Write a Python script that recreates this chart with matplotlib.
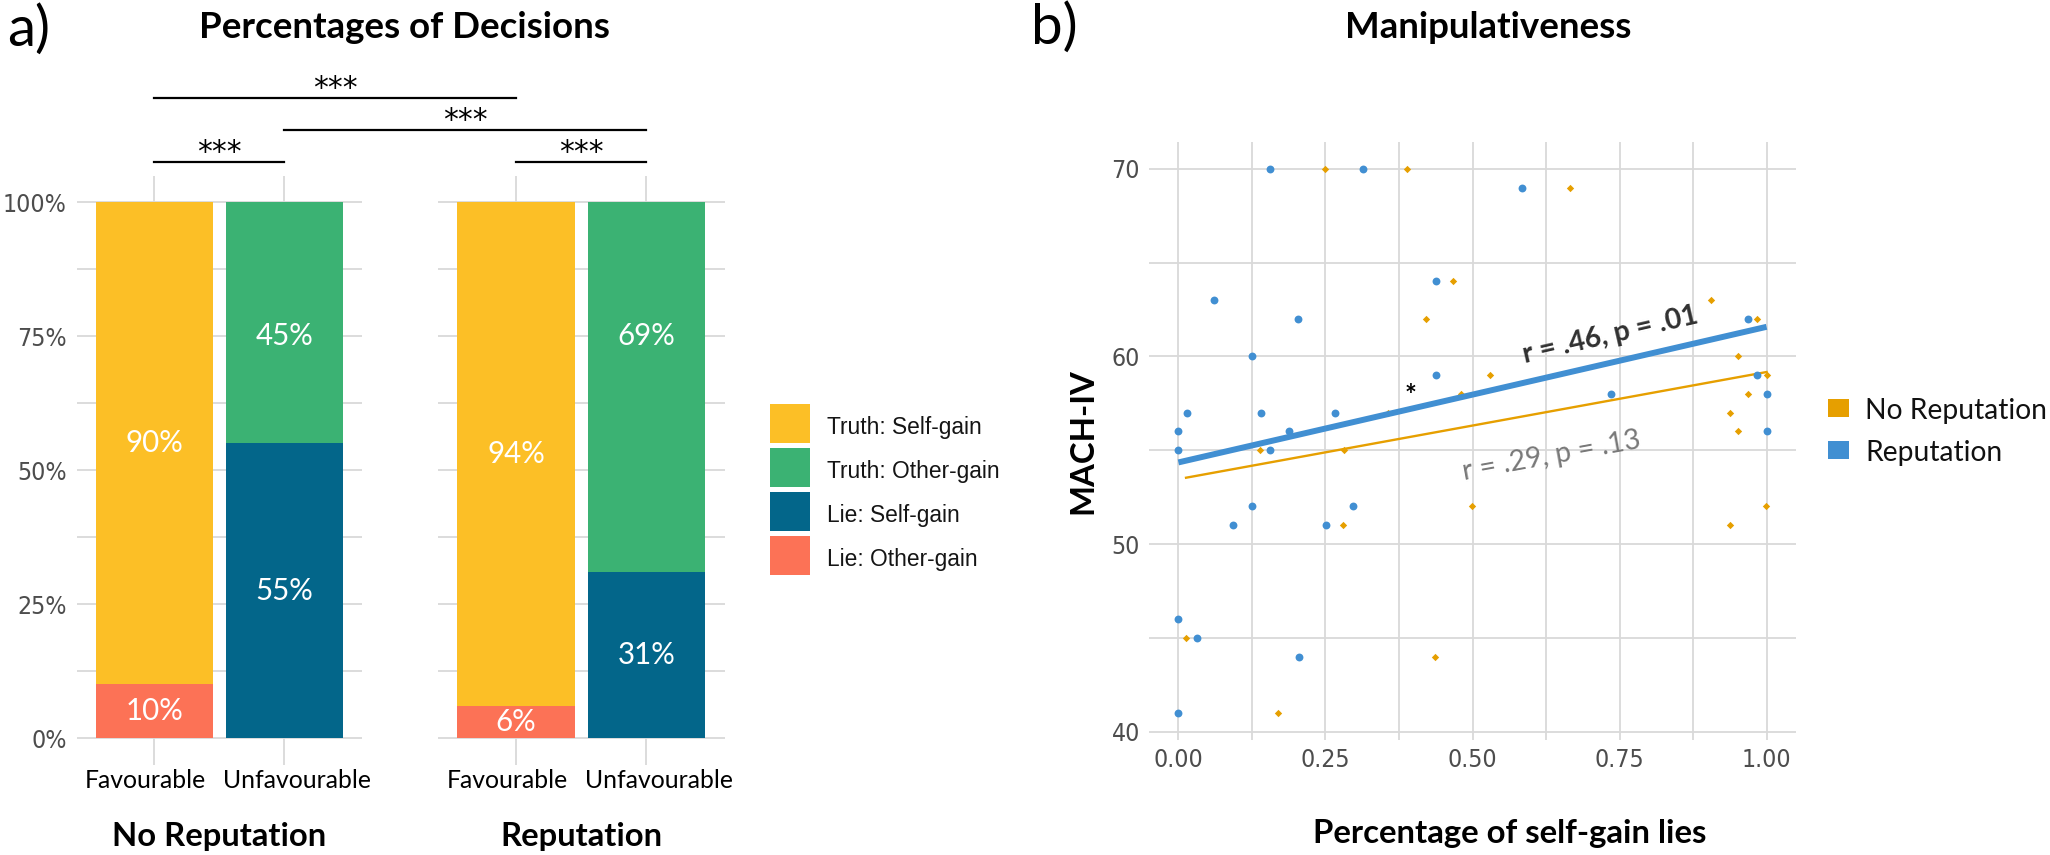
import numpy as np
import matplotlib
matplotlib.use("Agg")
import matplotlib.pyplot as plt
from matplotlib.patches import Rectangle
from matplotlib.lines import Line2D
from matplotlib.transforms import ScaledTranslation
from matplotlib import font_manager as fm

# ---------------- data: panel a ----------------
conditions = ["No Reputation", "Reputation"]
contexts = ["Favourable", "Unfavourable"]
categories = ["Truth: Self-gain", "Truth: Other-gain", "Lie: Self-gain", "Lie: Other-gain"]
# percentages, [condition][context]
truth_self = [[90, 0], [94, 0]]
truth_other = [[0, 45], [0, 69]]
lie_self = [[0, 55], [0, 31]]
lie_other = [[10, 0], [6, 0]]
pct_ticks = [0, 25, 50, 75, 100]

# significance comparisons: (condition, context) pairs
sig_from = [(0, 0), (1, 0), (0, 1), (0, 0)]
sig_to = [(0, 1), (1, 1), (1, 1), (1, 0)]
sig_labels = ["***", "***", "***", "***"]

# ---------------- data: panel b ----------------
rep_x = [0.156, 0.313, 0.061, 0.204, 0.125, 0.438, 0.438, 0.015, 0.140, 0.267,
         0.000, 0.188, 0.000, 0.156, 0.125, 0.092, 0.251, 0.297, 0.000, 0.031,
         0.205, 0.000, 0.584, 0.969, 0.984, 1.000, 1.000, 0.736]
rep_y = [70, 70, 63, 62, 60, 64, 59, 57, 57, 57,
         56, 56, 55, 55, 52, 51, 51, 52, 46, 45,
         44, 41, 69, 62, 59, 58, 56, 58]
norep_x = [0.250, 0.389, 0.467, 0.421, 0.529, 0.480, 0.357, 0.139, 0.281, 0.013,
           0.169, 0.280, 0.436, 0.499, 0.937, 0.999, 0.666, 0.905, 0.983, 0.952,
           1.000, 0.968, 0.937, 0.952]
norep_y = [70, 70, 64, 62, 59, 58, 57, 55, 55, 45,
           41, 51, 44, 52, 51, 52, 69, 63, 62, 60,
           59, 58, 57, 56]
rep_fit_intercept, rep_fit_slope = 54.35, 7.23
norep_fit_intercept, norep_fit_slope = 53.46, 5.71
rep_stat = "r = .46, p = .01"
norep_stat = "r = .29, p = .13"
x_ticks_b = [0.0, 0.25, 0.5, 0.75, 1.0]
y_ticks_b = [40, 50, 60, 70]

# ---------------- style ----------------
CAL = ["Lato", "DejaVu Sans"]
ARIAL = ["Liberation Sans", "DejaVu Sans"]
_fonts = fm.fontManager.ttflist
if any(f.name == "Liberation Sans Narrow" for f in _fonts):
    TICKFONT = dict(family=["Liberation Sans Narrow", "DejaVu Sans"])
elif any(f.name == "DejaVu Sans" and "condensed" in str(f.stretch) for f in _fonts):
    TICKFONT = dict(family=["DejaVu Sans"], stretch="condensed")
else:
    TICKFONT = dict(family=ARIAL)
C_TS, C_TO, C_LS, C_LO = "#FCBF26", "#3BB273", "#03668A", "#FC7256"
C_NOREP, C_REP = "#E69F00", "#418FD2"
GRID = "#d9d9d9"
TICKC = "#4d4d4d"

W, H = 2050, 855
fig = plt.figure(figsize=(W / 100, H / 100), dpi=100)
renderer = fig.canvas.get_renderer()


def size_for(text, target_px, base=20, **kw):
    """font size so that `text` is target_px wide."""
    t = fig.text(0, 0, text, fontsize=base, **kw)
    w = t.get_window_extent(renderer).width
    t.remove()
    return base * target_px / w


def rect(l, t, r, b):
    return [l / W, 1 - b / H, (r - l) / W, (b - t) / H]


def style_axes(ax):
    for s in ax.spines.values():
        s.set_visible(False)
    ax.tick_params(which="both", length=0)
    ax.grid(which="both", color=GRID, lw=1.3, zorder=0)
    ax.set_axisbelow(True)


fs_tick = 0.5 * (size_for("0.00", 50, **TICKFONT) + size_for("70", 28, **TICKFONT))
fs_tick = min(fs_tick, 20.5)
fs_ctx = min(size_for("Unfavourable", 148, family=CAL), size_for("Favourable", 121, family=CAL))
fs_barlab = size_for("90%", 58, family=CAL)
fs_title = size_for("Percentages of Decisions", 411, family=CAL, fontweight="bold")
fs_facet = size_for("No Reputation", 214, family=CAL, fontweight="bold")
fs_leg_a = size_for("Truth: Other-gain", 172, family=ARIAL)
fs_leg_b = size_for("No Reputation", 182, family=CAL)
fs_xlab = size_for("Percentage of self-gain lies", 395, family=CAL, fontweight="bold")
fs_ylab = fs_xlab
fs_star = size_for("***", 44, family=["DejaVu Sans"])
fs_stat = size_for(rep_stat, 180, family=CAL, fontweight="bold")
fs_panel = size_for("a)", 43, family=CAL)

# ---------------- panel a ----------------
ax1 = fig.add_axes(rect(76.5, 175.7, 362.2, 764.8))
ax2 = fig.add_axes(rect(437.8, 175.7, 724.5, 764.8))
axes_a = [ax1, ax2]
stack = [(lie_other, C_LO, "Lie: Other-gain"), (lie_self, C_LS, "Lie: Self-gain"),
         (truth_other, C_TO, "Truth: Other-gain"), (truth_self, C_TS, "Truth: Self-gain")]
ctx_offsets_px = [-9, 13]
for ci, ax in enumerate(axes_a):
    xpos = np.arange(len(contexts))
    bottom = np.zeros(len(contexts))
    for vals, color, name in stack:
        v = np.array(vals[ci]) / 100.0
        ax.bar(xpos, v, width=0.9, bottom=bottom, color=color, linewidth=0, zorder=2)
        for xi, (vi, bi) in enumerate(zip(v, bottom)):
            if vi > 0:
                ly = 0.75 if name == "Truth: Other-gain" else bi + vi / 2
                ax.text(xi, ly, f"{round(vi * 100)}%", color="white", ha="center",
                        va="center", fontsize=fs_barlab, family=CAL, zorder=3)
        bottom = bottom + v
    ax.set_xlim(-0.6, 1.6)
    ax.set_ylim(-0.05, 1.05)
    ax.set_xticks(xpos)
    ax.set_xticklabels(contexts, fontsize=fs_ctx, family=CAL, color="black")
    ax.set_yticks([t / 100 for t in pct_ticks])
    ax.set_yticks([0.125, 0.375, 0.625, 0.875], minor=True)
    style_axes(ax)
    ax.tick_params(axis="x", pad=3)
    ax.tick_params(axis="y", pad=7)
    # nudge context labels apart (after tick_params, which resets transforms)
    for lab, dx in zip(ax.get_xticklabels(), ctx_offsets_px):
        lab.set_transform(lab.get_transform() + ScaledTranslation(dx / 100, 0, fig.dpi_scale_trans))
    if ci == 0:
        ax.set_yticklabels([f"{t}%" for t in pct_ticks], fontsize=fs_tick, color=TICKC, **TICKFONT)
    else:
        ax.set_yticklabels([])
    pos = ax.get_position()
    fig.text((pos.x0 + pos.x1) / 2, 1 - 836 / H, conditions[ci], ha="center", va="center",
             fontsize=fs_facet, fontweight="bold", family=CAL)

# significance brackets (drawn in figure coords from data positions)
inv = fig.transFigure.inverted()


def to_fig(ax, x, y):
    return inv.transform(ax.transData.transform((x, y)))


levels = [1.075, 1.075, 1.135, 1.195]
for (c0, k0), (c1, k1), lab, ly in zip(sig_from, sig_to, sig_labels, levels):
    p0 = to_fig(axes_a[c0], k0, ly)
    p1 = to_fig(axes_a[c1], k1, ly)
    fig.add_artist(Line2D([p0[0], p1[0]], [p0[1], p1[1]], transform=fig.transFigure,
                          color="black", lw=1.6))
    fig.text((p0[0] + p1[0]) / 2, p0[1] + 1 / H, lab, ha="center", va="baseline",
             fontsize=fs_star, family=["DejaVu Sans"])

fig.text(404 / W, 1 - 28 / H, "Percentages of Decisions", ha="center", va="center",
         fontsize=fs_title, fontweight="bold", family=CAL)
fig.text(29 / W, 1 - 30 / H, "a)", ha="center", va="center", fontsize=fs_panel, family=CAL)

# legend a
leg_colors = [C_TS, C_TO, C_LS, C_LO]
for i, (lab, col) in enumerate(zip(categories, leg_colors)):
    top = 404 + 44 * i
    fig.add_artist(Rectangle((770 / W, 1 - (top + 39) / H), 40 / W, 39 / H,
                             transform=fig.transFigure, color=col, lw=0))
    fig.text(827 / W, 1 - (top + 30) / H, lab, ha="left", va="baseline",
             fontsize=fs_leg_a, family=ARIAL, color="#151515")

# ---------------- panel b ----------------
axb = fig.add_axes(rect(1149, 141.7, 1796, 740))
axb.set_xlim(-0.05, 1.05)
axb.set_ylim(39.55, 71.45)
axb.set_xticks(x_ticks_b)
axb.set_xticks([0.125, 0.375, 0.625, 0.875], minor=True)
axb.set_yticks(y_ticks_b)
axb.set_yticks([45, 55, 65], minor=True)
axb.set_xticklabels([f"{t:.2f}" for t in x_ticks_b], fontsize=fs_tick, color=TICKC, **TICKFONT)
axb.set_yticklabels([str(t) for t in y_ticks_b], fontsize=fs_tick, color=TICKC, **TICKFONT)
style_axes(axb)
axb.tick_params(axis="x", pad=6)
axb.tick_params(axis="y", pad=6.5)

axb.scatter(norep_x, norep_y, marker="D", s=14, color=C_NOREP, linewidths=0, zorder=3)
xr = np.array([min(norep_x), max(norep_x)])
axb.plot(xr, norep_fit_intercept + norep_fit_slope * xr, color=C_NOREP, lw=1.7, zorder=4)
axb.scatter(rep_x, rep_y, marker="o", s=32, color=C_REP, linewidths=0, zorder=5)
xb = np.array([min(rep_x), max(rep_x)])
axb.plot(xb, rep_fit_intercept + rep_fit_slope * xb, color=C_REP, lw=4.3, zorder=6,
         solid_capstyle="butt")


def line_angle(ax, a, b):
    p0 = ax.transData.transform((0, a))
    p1 = ax.transData.transform((1, a + b))
    return np.degrees(np.arctan2(p1[1] - p0[1], p1[0] - p0[0]))


axb.text(0.734, 61.12, rep_stat, rotation=line_angle(axb, rep_fit_intercept, rep_fit_slope),
         rotation_mode="anchor", ha="center", va="center", fontsize=fs_stat, fontweight="bold",
         family=CAL, color="#303030", zorder=7)
axb.text(0.635, 54.70, norep_stat,
         rotation=line_angle(axb, norep_fit_intercept, norep_fit_slope),
         rotation_mode="anchor", ha="center", va="center", fontsize=fs_stat,
         family=CAL, color="#787878", zorder=7)
axb.text(0.394, 57.9, "*", ha="center", va="center", fontsize=fs_stat, fontweight="bold",
         family=CAL, color="black", zorder=7)

fig.text(1488 / W, 1 - 28 / H, "Manipulativeness", ha="center", va="center",
         fontsize=fs_title, fontweight="bold", family=CAL)
fig.text(1054 / W, 1 - 28 / H, "b)", ha="center", va="center", fontsize=fs_panel, family=CAL)
fig.text(1083 / W, 1 - 441 / H, "MACH-IV", ha="center", va="center", rotation=90,
         fontsize=fs_ylab, fontweight="bold", family=CAL)
fig.text(1510 / W, 1 - 833 / H, "Percentage of self-gain lies", ha="center", va="center",
         fontsize=fs_xlab, fontweight="bold", family=CAL)

# legend b
for i, (lab, col) in enumerate(zip(["No Reputation", "Reputation"], [C_NOREP, C_REP])):
    top = 399.3 + 41.4 * i
    fig.add_artist(Rectangle((1828 / W, 1 - (top + 18) / H), 21 / W, 18 / H,
                             transform=fig.transFigure, color=col, lw=0))
    fig.text(1865 / W, 1 - (top + 20) / H, lab, ha="left", va="baseline",
             fontsize=fs_leg_b, family=CAL, color="#111111")

fig.savefig("out.png", dpi=100)
